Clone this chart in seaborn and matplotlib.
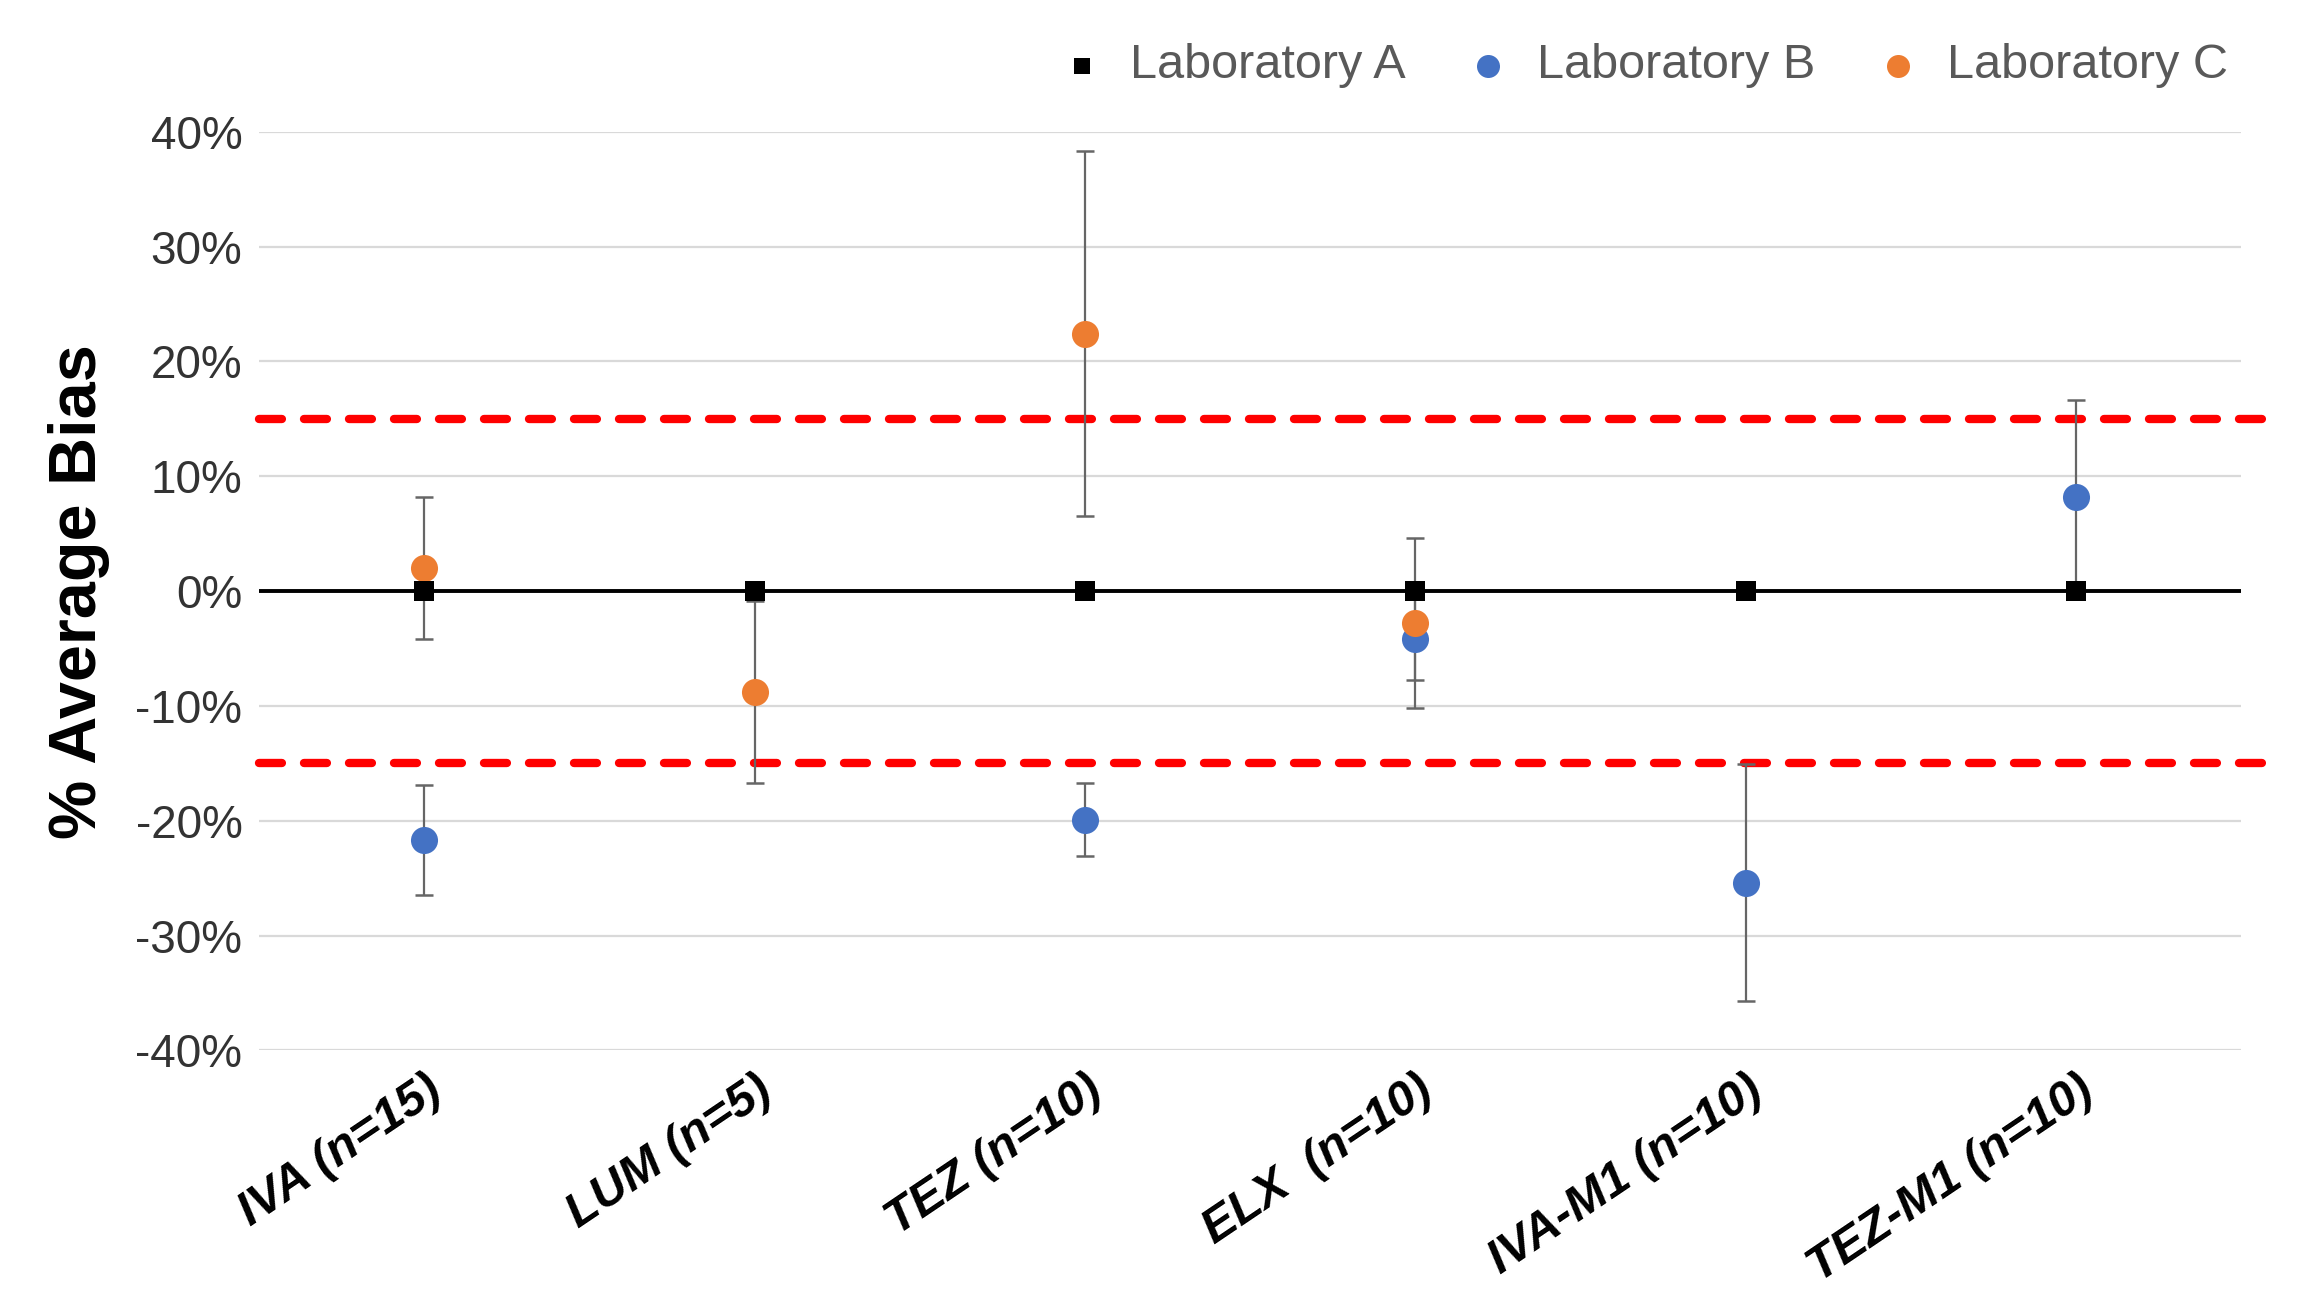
import numpy as np
import pandas as pd
import seaborn as sns
import matplotlib.pyplot as plt
import matplotlib.transforms as mtransforms
from matplotlib.ticker import FuncFormatter, MultipleLocator

compounds = ["IVA (n=15)", "LUM (n=5)", "TEZ (n=10)", "ELX  (n=10)", "IVA-M1 (n=10)", "TEZ-M1 (n=10)"]

# % average bias per lab (NaN = not measured)
lab_a = [0.0, 0.0, 0.0, 0.0, 0.0, 0.0]
lab_b = [-21.7, np.nan, -19.9, -4.2, -25.4, 8.2]
lab_b_err = [4.8, np.nan, 3.2, 3.5, 10.3, 8.4]
lab_c = [2.0, -8.8, 22.4, -2.8, np.nan, np.nan]
lab_c_err = [6.2, 7.9, 15.9, 7.4, np.nan, np.nan]

limit = 15

x = np.arange(len(compounds))
df = pd.concat([
    pd.DataFrame({"x": x, "bias": lab_a, "err": np.nan, "lab": "Laboratory A"}),
    pd.DataFrame({"x": x, "bias": lab_b, "err": lab_b_err, "lab": "Laboratory B"}),
    pd.DataFrame({"x": x, "bias": lab_c, "err": lab_c_err, "lab": "Laboratory C"}),
]).dropna(subset=["bias"])

colors = {"Laboratory A": "black", "Laboratory B": "#4472C4", "Laboratory C": "#ED7D31"}
markers = {"Laboratory A": "s", "Laboratory B": "o", "Laboratory C": "o"}
sizes = {"Laboratory A": 190, "Laboratory B": 380, "Laboratory C": 380}
zorders = {"Laboratory A": 6, "Laboratory B": 4, "Laboratory C": 5}

sns.set_theme(style="white")
plt.rcParams["font.family"] = ["Liberation Sans", "DejaVu Sans"]

fig = plt.figure(figsize=(23.13, 12.92), dpi=100)
ax = fig.add_axes([0.112, 0.187, 0.857, 0.711])

# grid + reference lines
ax.yaxis.grid(True, color="#D9D9D9", linewidth=1.6, zorder=0)
ax.axhline(0, color="black", linewidth=2.8, zorder=1)
for y in (limit, -limit):
    ax.plot([-0.5, 5.6], [y, y], color="#FF0000", linewidth=6,
            linestyle=(0, (2.75, 2.65)), dash_capstyle="round",
            clip_on=False, zorder=2)

# error bars
for lab in ["Laboratory B", "Laboratory C"]:
    sub = df[df["lab"] == lab].dropna(subset=["err"])
    ax.errorbar(sub["x"], sub["bias"], yerr=sub["err"], fmt="none",
                ecolor="#666666", elinewidth=1.6, capsize=6.5, capthick=1.8,
                zorder=3)

# points
for lab in ["Laboratory B", "Laboratory C", "Laboratory A"]:
    sub = df[df["lab"] == lab]
    sns.scatterplot(data=sub, x="x", y="bias", color=colors[lab],
                    marker=markers[lab], s=sizes[lab], linewidth=0,
                    label=lab, ax=ax, zorder=zorders[lab])

ax.set_xlim(-0.5, len(compounds) - 0.5)
ax.set_ylim(-40, 40)
ax.yaxis.set_major_locator(MultipleLocator(10))
ax.yaxis.set_major_formatter(FuncFormatter(lambda v, p: f"{v:.0f}%"))
ax.set_xticks(x)
ax.set_xticklabels(compounds, rotation=34, ha="right", rotation_mode="anchor",
                   fontsize=35, fontweight="bold", fontstyle="italic", color="black")
shift = mtransforms.ScaledTranslation(0.2, 0, fig.dpi_scale_trans)
for lbl in ax.get_xticklabels():
    lbl.set_transform(lbl.get_transform() + shift)
ax.tick_params(axis="y", labelsize=33, labelcolor="#333333", length=0, pad=12)
ax.tick_params(axis="x", length=0, pad=12)
ax.set_xlabel("")
ax.set_ylabel("% Average Bias", fontsize=48, fontweight="bold", color="black", labelpad=18)
sns.despine(ax=ax, left=True, bottom=True)

handles, labels = ax.get_legend_handles_labels()
order = [labels.index(l) for l in ["Laboratory A", "Laboratory B", "Laboratory C"]]
leg = ax.legend([handles[i] for i in order], [labels[i] for i in order],
                loc="center right", bbox_to_anchor=(0.982, 0.949),
                bbox_transform=fig.transFigure, ncol=3, frameon=False,
                fontsize=35, handletextpad=0.4, columnspacing=1.1,
                handlelength=1.2, markerscale=0.85)
for t in leg.get_texts():
    t.set_color("#595959")

fig.savefig("out.png", dpi=100, facecolor="white")
